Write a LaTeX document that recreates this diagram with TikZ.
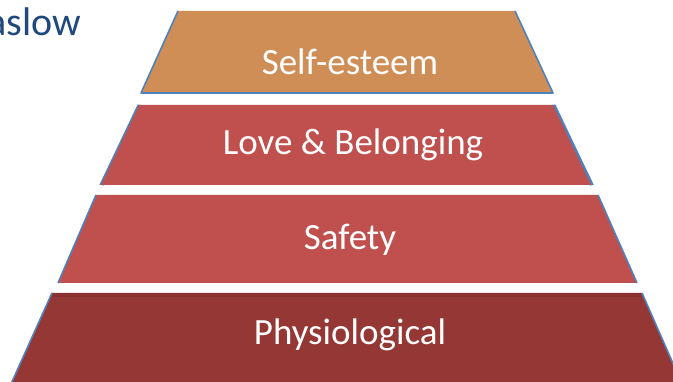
\documentclass[tikz,border=0pt]{standalone}
\usepackage{fontspec}
\setmainfont{Carlito}
\definecolor{se}{HTML}{CF8E55}
\definecolor{lb}{HTML}{C0504D}
\definecolor{ph}{HTML}{953735}
\definecolor{edge}{HTML}{4F81BD}
\definecolor{ttl}{HTML}{1F497D}
\begin{document}
\begin{tikzpicture}[x=1pt,y=-1pt,
  tier/.style={line width=1.6pt,draw=edge,line join=round},
  lbl/.style={text=white,font=\fontsize{37}{44}\selectfont,inner sep=0pt}]
\useasboundingbox (0,0) rectangle (673,382);
\clip (0,0) rectangle (673,382);
% title
\node[anchor=base east,text=ttl,font=\fontsize{40}{46}\selectfont,inner sep=0pt] (title) at (81,36) {Maslow};
% Self-esteem
\fill[se] (178,11) -- (515,11) -- (553,93) -- (141,93) -- cycle;
\draw[tier] (178,11) -- (141,93) -- (553,93) -- (515,11);
% Love & Belonging
\draw[edge,line width=3.2pt,line join=round] (140,105) -- (102,185) (553,105) -- (592,185);
\fill[lb] (139,105) -- (553,105) -- (591,185) -- (101,185) -- cycle;
\draw[edge,line width=1.2pt] (138,105) -- (100,185) (555,105) -- (593,185);
\draw[lb!70!edge,line width=0.5pt] (140.5,105) -- (102.5,185) (552.5,105) -- (590.5,185);
% Safety
\fill[lb] (96,195) -- (598,195) -- (637,283) -- (58,283) -- cycle;
\draw[tier] (96,195) -- (58,283) (598,195) -- (637,283);
% Physiological
\fill[ph] (52,293) -- (642,293) -- (682,384) -- (11,384) -- cycle;
\draw[tier] (52,293) -- (11,384) (642,293) -- (682,384);
\fill[black,opacity=0.08] (52,293) rectangle (642,297);
% labels
\node[lbl] (esteem) at (350,62) {Self-esteem};
\node[lbl] (love) at (353,145) {Love \& Belonging};
\node[lbl] (safety) at (350,240) {Safety};
\node[lbl] (physio) at (350,335) {Physiological};
\end{tikzpicture}
\end{document}
